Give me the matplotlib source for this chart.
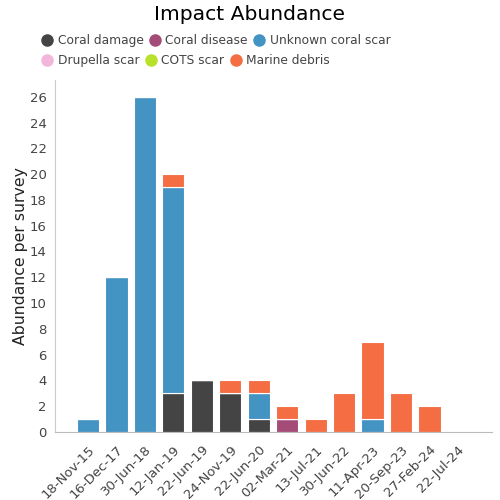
import matplotlib.pyplot as plt
import numpy as np
from matplotlib.lines import Line2D

# survey dates
dates = ["18-Nov-15", "16-Dec-17", "30-Jun-18", "12-Jan-19", "22-Jun-19", "24-Nov-19",
         "22-Jun-20", "02-Mar-21", "13-Jul-21", "30-Jun-22", "11-Apr-23", "20-Sep-23",
         "27-Feb-24", "22-Jul-24"]

# abundance per survey for each impact type
coral_damage = [0, 0, 0, 3, 4, 3, 1, 0, 0, 0, 0, 0, 0, 0]
coral_disease = [0, 0, 0, 0, 0, 0, 0, 1, 0, 0, 0, 0, 0, 0]
unknown_scar = [1, 12, 26, 16, 0, 0, 2, 0, 0, 0, 1, 0, 0, 0]
drupella_scar = [0, 0, 0, 0, 0, 0, 0, 0, 0, 0, 0, 0, 0, 0]
cots_scar = [0, 0, 0, 0, 0, 0, 0, 0, 0, 0, 0, 0, 0, 0]
marine_debris = [0, 0, 0, 1, 0, 1, 1, 1, 1, 3, 6, 3, 2, 0]

series = [
    ("Coral damage", coral_damage, "#444444"),
    ("Coral disease", coral_disease, "#a44b78"),
    ("Unknown coral scar", unknown_scar, "#4393c3"),
    ("Drupella scar", drupella_scar, "#f1b6da"),
    ("COTS scar", cots_scar, "#b8e12a"),
    ("Marine debris", marine_debris, "#f46d43"),
]

fig = plt.figure(figsize=(5, 5), dpi=100)
ax = fig.add_axes([0.11, 0.136, 0.874, 0.704])

x = np.arange(len(dates))
bottom = np.zeros(len(dates))
for name, vals, col in series:
    vals = np.array(vals, dtype=float)
    ax.bar(x, vals, width=0.78, bottom=bottom, color=col,
           edgecolor="#ffffff", linewidth=0.8)
    bottom += vals

ax.set_xlim(-1.16, 14.2)
ax.set_ylim(0, 27.3)
ax.set_yticks(range(0, 27, 2))
ax.set_xticks(x)
ax.set_xticklabels(dates, rotation=45, ha="right", rotation_mode="anchor")
ax.tick_params(axis="both", length=0, labelsize=9.5, colors="#444444", pad=6)
ax.tick_params(axis="x", pad=8)

for s in ["top", "right"]:
    ax.spines[s].set_visible(False)
ax.spines["left"].set_color("#cccccc")
ax.spines["bottom"].set_color("#bbbbbb")

ax.set_ylabel("Abundance per survey", fontsize=11.3, color="#222222")
ax.yaxis.set_label_coords(-0.062, 0.5)

fig.text(0.5, 0.972, "Impact Abundance", ha="center", va="center", fontsize=14.6, color="#000000")

handles = [Line2D([0], [0], marker="o", linestyle="", markersize=8,
                  markerfacecolor=col, markeredgecolor=col, label=name)
           for name, vals, col in series]
for hs, yy in [(handles[:3], 0.919), (handles[3:], 0.879)]:
    fig.legend(handles=hs, loc="center left", bbox_to_anchor=(0.082, yy),
               ncol=3, frameon=False, fontsize=8.8, handlelength=1.0,
               handletextpad=0.35, columnspacing=0.45, borderaxespad=0,
               borderpad=0, labelcolor="#444444")

fig.savefig("out.png", dpi=100)
